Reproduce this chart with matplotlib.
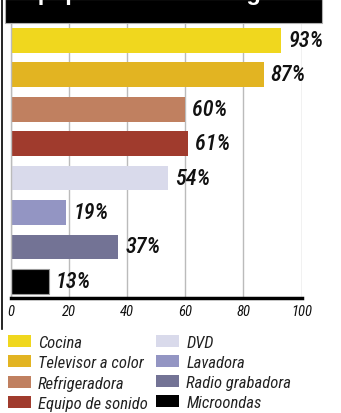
import matplotlib
matplotlib.use('Agg')
from matplotlib import pyplot as plt
from matplotlib.patches import Patch, Rectangle
from matplotlib.lines import Line2D

plt.rcParams['font.family'] = ['Roboto Condensed', 'DejaVu Sans']

# equipos del hogar y porcentaje de hogares que los tienen
equipos = ['Cocina', 'Televisor a color', 'Refrigeradora', 'Equipo de sonido',
           'DVD', 'Lavadora', 'Radio grabadora', 'Microondas']
porcentajes = [93, 87, 60, 61, 54, 19, 37, 13]
colores = ['#f0d71e', '#e2b422', '#c08060', '#a03b2d',
           '#d9daeb', '#9395c3', '#737395', '#000000']
ticks = [0, 20, 40, 60, 80, 100]
titulo = 'Equipamiento del hogar'

W, H = 341, 414
fig = plt.figure(figsize=(W / 100, H / 100), dpi=100)

# barra negra del titulo (cortada arriba)
fig.patches.append(Rectangle((5 / W, 1 - 24 / H), 317 / W, 24 / H,
                             transform=fig.transFigure, facecolor='black',
                             edgecolor='#b0b0b0', linewidth=0.8, zorder=0))
fig.text(14 / W, 1 - 0.3 / H, titulo, color='white', fontsize=17,
         fontweight='bold', family=['Liberation Sans', 'DejaVu Sans'],
         va='baseline', ha='left')
fig.lines.append(Line2D([1.5 / W, 1.5 / W], [1, 1 - 330 / H],
                        transform=fig.transFigure, color='black', linewidth=1.2))

ax = fig.add_axes([11 / W, 1 - 299 / H, 290.5 / W, 274 / H])
pos = list(range(len(equipos)))
barras = ax.barh(pos, porcentajes, height=0.72, color=colores, zorder=2)
barras[-1].set_edgecolor('#999999')
barras[-1].set_linewidth(0.8)

for p, v in zip(pos, porcentajes):
    ax.annotate(f'{v}%', xy=(v, p), xytext=(5, 0), textcoords='offset points',
                va='center', ha='left', fontsize=16, fontstyle='italic',
                fontweight='medium', color='#111111', zorder=3)

ax.set_xlim(0, 100)
ax.set_ylim(7.48, -0.47)
ax.set_xticks(ticks)
ax.set_xticklabels([str(t) for t in ticks], fontsize=10.5, fontstyle='italic')
ax.set_yticks([])
ax.tick_params(axis='x', length=0, pad=4, labelcolor='#111111')
ax.grid(axis='x', color='#bbbbbb', linewidth=1, zorder=0)
ax.set_axisbelow(True)
for s in ['top', 'right']:
    ax.spines[s].set_visible(False)
ax.spines['left'].set_color('#bbbbbb')
ax.spines['left'].set_linewidth(1)
ax.spines['bottom'].set_color('black')
ax.spines['bottom'].set_linewidth(2.5)

handles = [Patch(facecolor=c, edgecolor='none') for c in colores]
leg = fig.legend(handles, equipos, loc='upper left', bbox_to_anchor=(8 / W, 1 - 336 / H),
                 ncol=2, frameon=False, prop={'style': 'italic', 'size': 12},
                 handlelength=1.35, handleheight=0.75, handletextpad=0.45,
                 columnspacing=0.5, labelspacing=0.3, borderpad=0, borderaxespad=0)
for t in leg.get_texts():
    t.set_color('#222222')

fig.savefig('out.png', dpi=100)
